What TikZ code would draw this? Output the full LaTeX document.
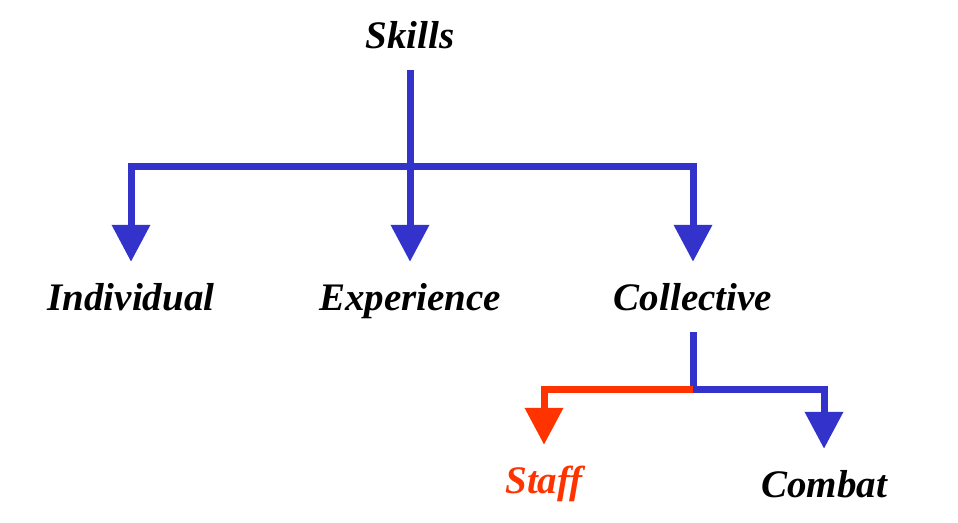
\documentclass[tikz,border=0pt]{standalone}
\usepackage{fontspec}
\setmainfont{Liberation Serif}
\usepackage{tikz}
\usetikzlibrary{arrows.meta, positioning, calc}

\definecolor{linkblue}{RGB}{51,51,204}
\definecolor{staffred}{RGB}{255,51,0}

\begin{document}
\begin{tikzpicture}[x=1pt, y=-1pt,
  skill/.style={font=\fontsize{39}{47}\selectfont\bfseries\itshape, anchor=base,
    text height=30pt, text depth=4pt, inner xsep=0pt, inner ysep=18pt},
  link/.style={line width=7pt, linkblue},
  tip/.style={-{Triangle[width=37pt, length=37pt]}}]
\useasboundingbox (0,0) rectangle (958,522);

% Nodes
\node[skill] (skills) at (410,48) {Skills};
\node[skill] (indiv) at (131,310) {Individual};
\node[skill] (exper) at (410,310) {Experience};
\node[skill] (coll) at (693,310) {Collective};
\node[skill, text=staffred] (staff) at (544,493) {Staff};
\node[skill] (combat) at (824,497) {Combat};

\coordinate (hub) at (410,166);
\coordinate (split) at (693,389);

% Arrows
\draw[link] (skills) -- (hub);
\draw[link, tip] (hub) -| (indiv);
\draw[link, tip] (hub) -- (exper);
\draw[link, tip] (hub) -| (coll);

\draw[link] (coll) -- (split);
\draw[link, tip, staffred] (split) -| (staff);
\draw[link, tip] (split) -| (combat);
\end{tikzpicture}
\end{document}
